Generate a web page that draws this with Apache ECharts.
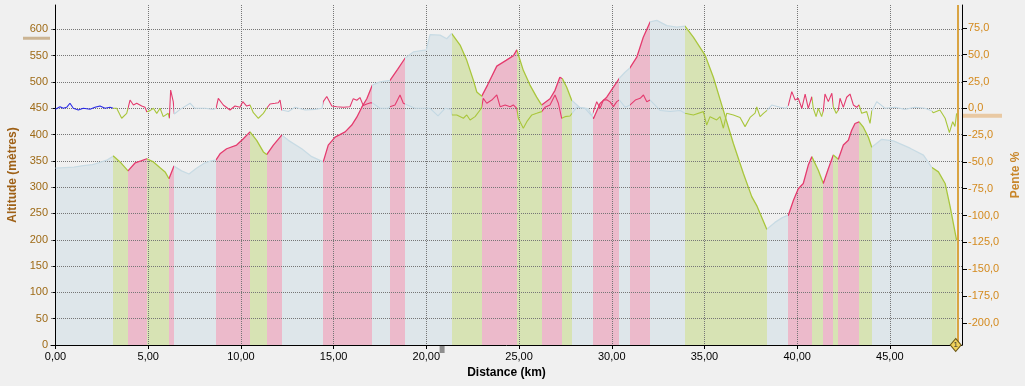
<!DOCTYPE html>
<html>
<head>
<meta charset="utf-8">
<script src="https://cdn.jsdelivr.net/npm/echarts@6/dist/echarts.min.js"></script>
<style>
html,body{margin:0;padding:0;background:#F0F0F0;}
#c{width:1025px;height:386px;}
</style>
</head>
<body>
<div id="c"></div>
<script>
// ---- Altitude profile (km, m) ----
const distKm = [0, 0.5, 1.0, 1.5, 2.0, 2.4, 2.8, 3.12, 3.48, 3.91, 4.29, 4.61, 4.92, 5.28, 5.64, 5.91, 6.12, 6.39, 6.8, 7.2, 7.6, 8.0, 8.3, 8.66, 8.89, 9.23, 9.77, 10.13, 10.49, 10.85, 11.21, 11.39, 11.75, 12.2, 12.56, 13.28, 13.82, 14.44, 14.71, 15.08, 15.62, 15.98, 16.25, 16.52, 16.79, 17.09, 17.5, 18.04, 18.45, 18.85, 19.3, 20.0, 20.2, 20.74, 21.1, 21.37, 21.82, 22.18, 22.54, 22.72, 22.99, 23.3, 23.8, 24.3, 24.7, 24.88, 25.23, 25.59, 25.95, 26.22, 26.67, 26.94, 27.2, 27.34, 27.57, 27.84, 28.29, 28.74, 29.01, 29.37, 29.73, 30.09, 30.41, 30.7, 30.99, 31.35, 31.7, 32.07, 32.43, 32.97, 33.51, 33.95, 34.4, 35.03, 35.48, 36.02, 36.56, 37.1, 37.55, 37.82, 38.36, 38.8, 39.2, 39.53, 39.8, 40.06, 40.33, 40.6, 40.79, 41.14, 41.41, 41.68, 41.95, 42.22, 42.49, 42.76, 42.94, 43.12, 43.34, 43.57, 43.84, 44.02, 44.56, 45.19, 46.09, 46.81, 47.25, 47.62, 47.98, 48.25, 48.6];
const altitudeM = [336, 337, 338, 341, 343, 347, 352, 359, 348, 331, 346, 350, 354, 348, 337, 329, 316, 340, 331, 325, 336, 345, 349, 352, 364, 373, 380, 392, 405, 389, 367, 362, 380, 399, 389, 373, 358, 348, 380, 395, 405, 418, 433, 452, 468, 494, 500, 503, 524, 545, 557, 561, 590, 589, 582, 592, 570, 541, 503, 481, 473, 494, 530, 541, 550, 561, 522, 494, 471, 456, 468, 484, 509, 506, 490, 465, 451, 449, 430, 459, 471, 490, 507, 518, 527, 547, 585, 614, 617, 607, 604, 606, 585, 551, 509, 446, 383, 326, 282, 265, 220, 233, 242, 247, 275, 297, 307, 342, 358, 332, 307, 335, 361, 353, 380, 389, 408, 421, 424, 414, 395, 376, 391, 388, 374, 361, 338, 329, 307, 263, 199];

// ---- Slope (km, %) ----
const slopeKm = [0, 0.24, 0.42, 0.60, 0.78, 0.96, 1.23, 1.50, 1.86, 2.13, 2.40, 2.67, 2.94, 3.12, 3.30, 3.57, 3.84, 3.91, 4.02, 4.20, 4.38, 4.65, 4.83, 4.92, 5.10, 5.28, 5.46, 5.64, 5.81, 6.08, 6.14, 6.21, 6.35, 6.41, 6.72, 7.26, 7.52, 8.06, 8.50, 8.66, 8.78, 9.05, 9.41, 9.68, 9.95, 10.10, 10.31, 10.49, 10.67, 10.94, 11.21, 11.39, 11.57, 11.84, 12.02, 12.11, 12.20, 12.56, 12.92, 13.46, 14.00, 14.37, 14.44, 14.63, 14.90, 15.17, 15.52, 15.88, 16.06, 16.25, 16.42, 16.60, 16.79, 16.96, 17.09, 17.50, 17.93, 18.04, 18.31, 18.58, 18.76, 18.85, 19.39, 20.20, 20.63, 21.01, 21.33, 21.37, 21.64, 22.00, 22.18, 22.36, 22.63, 22.90, 22.99, 23.07, 23.26, 23.53, 23.80, 23.98, 24.25, 24.52, 24.69, 24.88, 24.96, 25.05, 25.23, 25.42, 25.69, 25.95, 26.22, 26.40, 26.67, 26.94, 27.12, 27.30, 27.48, 27.75, 28.11, 28.56, 28.92, 29.01, 29.19, 29.37, 29.55, 29.73, 29.91, 30.09, 30.27, 30.41, 30.72, 30.99, 31.27, 31.53, 31.71, 31.89, 32.07, 32.61, 33.15, 33.69, 33.95, 34.40, 34.94, 35.12, 35.30, 35.66, 35.84, 36.02, 36.20, 36.56, 36.92, 37.19, 37.46, 37.73, 37.82, 38.00, 38.18, 38.36, 38.63, 39.08, 39.40, 39.53, 39.71, 39.89, 40.06, 40.25, 40.43, 40.60, 40.79, 40.87, 41.02, 41.14, 41.32, 41.41, 41.50, 41.68, 41.87, 41.95, 42.10, 42.22, 42.31, 42.49, 42.67, 42.85, 43.03, 43.21, 43.34, 43.48, 43.75, 43.93, 44.02, 44.29, 44.74, 45.28, 45.81, 46.35, 46.89, 47.21, 47.34, 47.70, 47.98, 48.21, 48.39, 48.51, 48.60];
const slopePct = [-0.9, 1.5, 0, 0.9, 4.7, 0, -1.6, 0, -0.9, 0.9, 2.1, 0, 0.9, 0, 0, -9.3, -4.7, 0, 7.7, 3.1, 4.7, 2.1, 0.9, -3.2, -2.2, 0, -4.7, 0, -7.8, -4.7, -9.3, 17, 6.2, -5.3, -1, 4.7, 0, 0, -1, 0, 9.3, 3.1, -1.6, 2.1, 0.9, 6.2, 2.1, 3.1, -4.1, -9.3, -4.7, 0, 4, 4.7, 5.2, 7.7, -1.6, -3, 0.9, -1.6, -1, 0, 6.2, 11, 2.1, 1.5, 0.9, 1.5, 9, 7.5, 10, 2.5, 4, 5, 5, 0, 0, 1.5, 3.1, 12.4, 4.7, 6.2, 0, 0, -7, 0, -1, -6.2, -6.2, -9.3, -6.2, -10.9, -7.8, -1.6, 1.5, 9.3, 4.7, 7.7, 12.4, 1.5, 3.1, 1.5, 3.1, 0, -9.3, -10.9, -18.6, -12.5, -6.2, -4.7, -3.1, 0.9, 3.1, 12.4, 4.7, -9.3, -7.8, -7.2, 0.9, 0, -7, -3.1, 6.2, 0, 7.7, 8, 6, 1.5, 6.2, 7.7, 1, 3.1, 7.7, 9.3, 12.4, 6.2, 7.7, -2, -3, -2, -4.7, -6.2, -3.1, -15.6, -7.8, -10.9, -7.8, -18.6, -4.7, -6.2, -8.5, -17.1, -8.5, -4.5, 1.2, -7.8, -4.7, -2.2, 3, 1, 0, 3.1, 15.5, 7.7, 9.3, 0, 13.3, 0, 10.8, 0, -7.8, 0, -7.8, -2, 13.3, 6.2, 14, 1.5, -4.7, -1.6, 9.3, 0.9, 10.3, 13.3, 3.1, 0.9, 3.1, -4.7, -3.1, -14, -3.1, 6.2, 0, 1, -1, 1, 0, -2, -4.1, -1.6, -9.3, -22.7, -12.5, -17, -4.7];

// ---- Slope classes per section: F = flat, C = climb, D = descent ----
const segEndKm = [3.12, 3.91, 4.92, 6.12, 6.39, 8.66, 10.49, 11.39, 12.2, 14.44, 17.09, 18.04, 18.85, 21.37, 22.99, 24.88, 26.22, 27.34, 27.84, 29.01, 30.41, 30.99, 32.07, 33.95, 38.36, 39.53, 40.79, 41.41, 41.95, 42.22, 43.34, 44.02, 47.25, 48.6];
const segType = ['F','D','C','D','C','F','C','D','C','F','C','F','C','F','D','C','D','C','D','F','C','F','C','F','D','F','C','D','C','D','C','D','F','D'];
const selectedKm = [0, 3.12];       // selected slope section (blue)

// ---- Axis ticks ----
const xTicks = [0, 5, 10, 15, 20, 25, 30, 35, 40, 45];
const altTicks = [0, 50, 100, 150, 200, 250, 300, 350, 400, 450, 500, 550, 600];
const slopeTicks = [-200, -175, -150, -125, -100, -75, -50, -25, 0, 25, 50, 75];

// ---- Cursor ----
const cursorKm = 20.85, cursorAlt = 583, cursorSlope = -7, endKm = 48.55;

const areaColors = {F: '#DEE6EA', C: '#ECBACB', D: '#D7E3B4'};
const lineColors = {F: '#C8DBE4', C: '#E43B6E', D: '#A9C63C'};
const slopeColors = {F: '#C3D8E3', C: '#E43B6E', D: '#A9C63C'};
const selectedColor = '#2A2AE6';

function pieces(colors, sel) {
  const out = [];
  segEndKm.forEach((end, i) => {
    const start = i === 0 ? -10 : segEndKm[i - 1];
    const stop = i === segEndKm.length - 1 ? 100 : end;
    out.push({gte: start, lt: stop, color: colors[segType[i]]});
  });
  if (sel) {
    out[0] = {gte: -10, lt: sel[1], color: selectedColor};
  }
  return out;
}

const altData = distKm.map((d, i) => [d, altitudeM[i]]);
const slopeData = slopeKm.map((d, i) => [d, slopePct[i]]);

const FONT = 'Liberation Sans';
const gridLine = {show: true, lineStyle: {color: '#767676', type: [1, 1], width: 1}};

const chart = echarts.init(document.getElementById('c'), null, {renderer: 'canvas'});
chart.setOption({
  backgroundColor: '#F0F0F0',
  animation: false,
  textStyle: {fontFamily: FONT},
  grid: {left: 51, right: 63, top: 5, bottom: 41, containLabel: false, outerBoundsMode: 'none'},
  xAxis: {
    type: 'value', min: -0.243, max: 48.89,
    name: 'Distance (km)', nameLocation: 'middle', nameGap: 21,
    nameTextStyle: {color: '#000', fontWeight: 'bold', fontSize: 12, fontFamily: FONT},
    axisLine: {show: true, lineStyle: {color: '#000', width: 1}},
    axisTick: {show: true, length: 4, lineStyle: {color: '#000'}, customValues: xTicks},
    axisLabel: {color: '#000', fontSize: 11, margin: 6, customValues: xTicks,
      formatter: v => v.toFixed(2).replace('.', ',')},
    splitLine: gridLine
  },
  yAxis: [{
    type: 'value', min: 0, max: 646.2, position: 'left',
    name: 'Altitude (mètres)', nameLocation: 'middle', nameRotate: 90, nameGap: 28,
    nameTextStyle: {color: '#9E6016', fontWeight: 'bold', fontSize: 12, fontFamily: FONT},
    axisLine: {show: true, lineStyle: {color: '#000', width: 1}},
    axisTick: {show: true, length: 3, lineStyle: {color: '#000'}, customValues: altTicks},
    axisLabel: {color: '#9E6A16', fontSize: 11, margin: 3, customValues: altTicks},
    splitLine: gridLine
  }, {
    type: 'value', min: -220.7, max: 96.3, position: 'right',
    name: 'Pente %', nameLocation: 'middle', nameRotate: 90, nameGap: 38,
    nameTextStyle: {color: '#C8862A', fontWeight: 'bold', fontSize: 12, fontFamily: FONT},
    axisLine: {show: true, lineStyle: {color: '#000', width: 1}},
    axisTick: {show: true, length: 5, lineStyle: {color: '#000'}, customValues: slopeTicks},
    axisLabel: {color: '#D48A1E', fontSize: 11, margin: 6, customValues: slopeTicks,
      formatter: v => v.toFixed(1).replace('.', ',')},
    splitLine: {show: false}
  }],
  visualMap: [
    {type: 'piecewise', show: false, dimension: 0, seriesIndex: 0, pieces: pieces(areaColors), outOfRange: {color: '#DEE6EA'}},
    {type: 'piecewise', show: false, dimension: 0, seriesIndex: 1, pieces: pieces(lineColors), outOfRange: {color: '#C8DBE4'}},
    {type: 'piecewise', show: false, dimension: 0, seriesIndex: 2, pieces: pieces(slopeColors, selectedKm), outOfRange: {color: '#C3D8E3'}}
  ],
  series: [{
    name: 'altitude-area', type: 'line', data: altData, yAxisIndex: 0, z: -1,
    showSymbol: false, symbol: 'none', silent: true,
    lineStyle: {width: 0, opacity: 0},
    areaStyle: {opacity: 1}
  }, {
    name: 'altitude', type: 'line', data: altData, yAxisIndex: 0, z: 3,
    showSymbol: false, symbol: 'none', silent: true,
    lineStyle: {width: 1.3},
    markPoint: {
      silent: true, symbol: 'diamond', symbolSize: [11, 13],
      itemStyle: {color: '#F1D25A', borderColor: '#6E5A18', borderWidth: 1},
      label: {show: true, formatter: '1', fontSize: 8, color: '#333', fontFamily: FONT},
      data: [{coord: [endKm, 0]}]
    }
  }, {
    name: 'pente', type: 'line', data: slopeData, yAxisIndex: 1, z: 4,
    showSymbol: false, symbol: 'none', silent: true,
    lineStyle: {width: 1.1},
    markLine: {
      silent: true, symbol: 'none', animation: false,
      label: {show: false},
      lineStyle: {color: '#D9A443', width: 2, type: 'solid'},
      data: [{xAxis: endKm + 0.1}]
    }
  }]
});

// cursor markers on the axes
const yAlt = chart.convertToPixel({yAxisIndex: 0}, cursorAlt);
const ySl = chart.convertToPixel({yAxisIndex: 1}, cursorSlope);
const xCur = chart.convertToPixel({xAxisIndex: 0}, cursorKm);
const xLeft = chart.convertToPixel({xAxisIndex: 0}, -0.243);
const xRight = chart.convertToPixel({xAxisIndex: 0}, 48.89);
const yBottom = chart.convertToPixel({yAxisIndex: 0}, 0);
chart.setOption({
  graphic: [
    {type: 'rect', silent: true, shape: {x: xLeft - 28, y: yAlt - 1.5, width: 27, height: 3}, style: {fill: '#CBB493'}},
    {type: 'rect', silent: true, shape: {x: xRight + 1, y: ySl - 2, width: 39, height: 4}, style: {fill: '#E9C9A3'}},
    {type: 'rect', silent: true, shape: {x: xCur - 2.5, y: yBottom, width: 5, height: 8}, style: {fill: '#8E8E8E'}}
  ]
});
</script>
</body>
</html>
